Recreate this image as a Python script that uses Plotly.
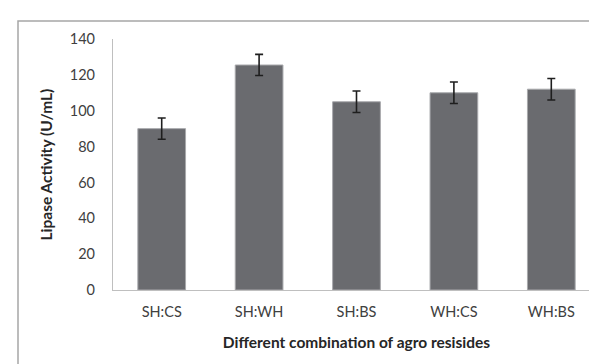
import plotly.graph_objects as go

categories = ["SH:CS", "SH:WH", "SH:BS", "WH:CS", "WH:BS"]
activity = [90, 125.5, 105, 110, 112]
errors = [5.9, 5.9, 6, 6, 6]
y_ticks = [0, 20, 40, 60, 80, 100, 120, 140]

W, H = 597, 364
ml, mr, mt, mb = 105, 5, 31, 82
pw = W - ml - mr
ph = H - mt - mb

fig = go.Figure()
fig.add_trace(go.Bar(
    x=categories, y=activity,
    marker=dict(color="#6a6b6f", line=dict(color="#a8a9ac", width=1)),
    width=0.49,
    error_y=dict(type="data", array=errors, visible=True, color="#1e1e1e",
                 thickness=1.6, width=4),
))

font_family = "Lato, 'Open Sans', sans-serif"
fig.update_layout(
    width=W, height=H,
    margin=dict(l=ml, r=mr, t=mt, b=mb),
    paper_bgcolor="white", plot_bgcolor="white",
    showlegend=False,
    font=dict(family=font_family, color="#404040", size=14.5),
    xaxis=dict(
        showline=True, linecolor="#bfbfbf", linewidth=1.2,
        ticks="", showgrid=False,
        tickfont=dict(size=14.5, color="#404040"),
        ticklabelstandoff=8,
        title=dict(text="<b>Different combination of agro resisides</b>",
                   font=dict(size=15.5, color="#262626"), standoff=18),
    ),
    yaxis=dict(
        range=[0, 140], tickvals=y_ticks,
        showline=True, linecolor="#bfbfbf", linewidth=1.2,
        ticks="outside", ticklen=14, tickcolor="rgba(0,0,0,0)",
        showgrid=False, zeroline=False,
        tickfont=dict(size=14.5, color="#404040"),
    ),
    annotations=[dict(
        text="<b>Lipase Activity (U/mL)</b>", textangle=-90,
        xref="paper", yref="paper", x=(37 - ml) / pw, y=0.5,
        xanchor="center", yanchor="middle", showarrow=False,
        font=dict(size=15.5, color="#262626", family=font_family),
    )],
)

# outer chart border (extends beyond visible frame on right/bottom)
x0 = (10 - ml) / pw
y1 = (H - mb - 13) / ph
fig.add_shape(type="rect", xref="paper", yref="paper",
              x0=x0, x1=1.3, y0=-0.6, y1=y1,
              line=dict(color="#a6a6a6", width=1.5), fillcolor="rgba(0,0,0,0)",
              layer="below")

fig.write_html("out.html")
